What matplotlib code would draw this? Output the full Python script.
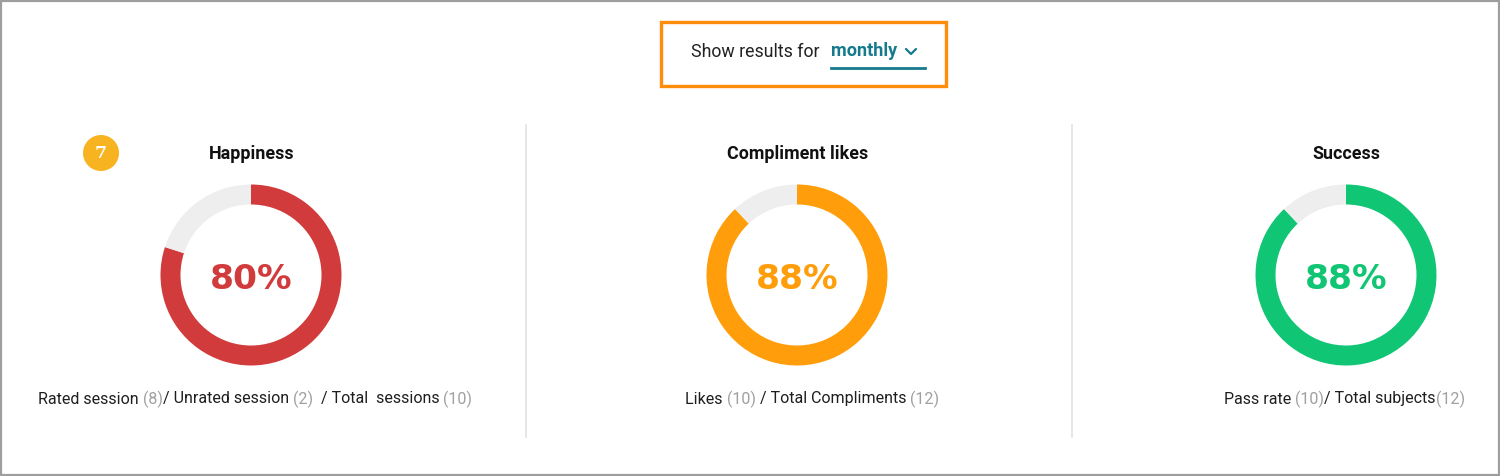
import matplotlib
matplotlib.use("Agg")
import matplotlib.pyplot as plt
from matplotlib.patches import Rectangle, Circle

# ---- data ----
titles = ["Happiness", "Compliment likes", "Success"]
percents = [80, 88, 88]
ring_colors = ["#D13B3B", "#FF9D0B", "#10C573"]
rest_color = "#EEEEEE"
footers = [
    [("Rated session ", "k"), ("(8)", "g"), ("/ Unrated session ", "k"), ("(2)", "g"),
     ("  / Total  sessions ", "k"), ("(10)", "g")],
    [("Likes ", "k"), ("(10)", "g"), (" / Total Compliments ", "k"), ("(12)", "g")],
    [("Pass rate ", "k"), ("(10)", "g"), ("/ Total subjects", "k"), ("(12)", "g")],
]
period_label = "Show results for"
period_value = "monthly"
badge_value = "7"

# ---- layout (pixels) ----
W, H = 1500, 476
fig = plt.figure(figsize=(W / 100, H / 100), dpi=100)
fig.patch.set_facecolor("white")
main = fig.add_axes([0, 0, 1, 1])
main.set_xlim(0, W)
main.set_ylim(H, 0)
main.axis("off")

FONT = "Roboto"
centers_x = [251, 797, 1346]
center_y = 275
R = 90.5
title_x = [252, 798, 1346]
footer_x = [38, 685, 1224]

# outer border
main.add_patch(Rectangle((1, 1), W - 2.5, H - 2.5, fill=False, ec="#9E9E9E", lw=1.6, zorder=5))

# dividers
for x in [526, 1072]:
    main.plot([x, x], [125, 437], color="#E2E2E2", lw=1.2)

# top selector box
main.add_patch(Rectangle((660.5, 21.5), 285, 64, fill=False, ec="#FF8C0A", lw=2.4))
main.text(691, 52, period_label, fontsize=12.8, family=FONT, color="#222222", va="center", ha="left")
main.text(831, 51.5, period_value, fontsize=13.1, family=FONT, weight="bold", color="#157A8C",
          va="center", ha="left")
main.plot([906, 911, 916], [49, 54, 49], color="#157A8C", lw=1.6, solid_capstyle="round")
main.plot([831, 925], [67.5, 67.5], color="#157A8C", lw=2)

# badge
main.add_patch(Circle((101, 153), 18, color="#F8B320", ec="none"))
main.text(101, 154, badge_value, fontsize=12.5, family="DejaVu Serif", weight="bold", color="white",
          ha="center", va="center")

# titles
for t, x in zip(titles, title_x):
    main.text(x, 154, t, fontsize=12.9, family=FONT, weight="bold", color="#111111",
              ha="center", va="center")

# donuts
for cx, p, col in zip(centers_x, percents, ring_colors):
    ax = fig.add_axes([(cx - R) / W, (H - center_y - R) / H, 2 * R / W, 2 * R / H])
    ax.pie([p, 100 - p], colors=[col, rest_color], startangle=90, counterclock=False,
           radius=1, wedgeprops=dict(width=20 / R, linewidth=0))
    ax.set_xlim(-1, 1)
    ax.set_ylim(-1, 1)
    ax.set_aspect("equal")
    ax.axis("off")
    ax.text(0, -0.045, f"{p}%", fontsize=24.8, family="DejaVu Sans", weight="bold", color=col,
            ha="center", va="center")

# footers with mixed colours
fig.canvas.draw()
renderer = fig.canvas.get_renderer()
inv = main.transData.inverted()
for parts, x0 in zip(footers, footer_x):
    x = x0
    for s, c in parts:
        color = "#1E1E1E" if c == "k" else "#A0A0A0"
        t = main.text(x, 399, s, fontsize=11.5, family=FONT, color=color, ha="left", va="center")
        bb = t.get_window_extent(renderer=renderer)
        x = inv.transform((bb.x1, bb.y0))[0]

fig.savefig("out.png", dpi=100, facecolor="white")
